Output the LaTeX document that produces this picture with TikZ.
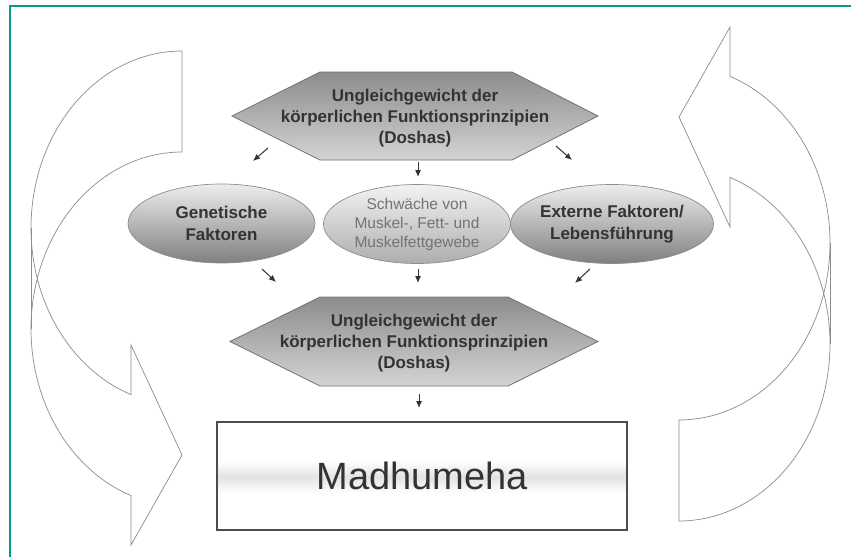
\documentclass[tikz,border=0pt]{standalone}
\usepackage{fontspec}
\setmainfont{Liberation Sans}
\usetikzlibrary{shapes.geometric,arrows.meta}
\definecolor{frameteal}{HTML}{009B8D}
\begin{document}
\begin{tikzpicture}[x=1pt,y=-1pt,
  hexbox/.style={draw=black!55, line width=0.8pt, top color=black!45, bottom color=black!17},
  hextext/.style={align=center, text=black!80, font=\fontsize{17}{21}\selectfont\bfseries},
  ovalbox/.style={ellipse, draw=black!45, line width=0.7pt, minimum width=187pt, minimum height=79pt,
    inner sep=0pt, top color=black!7, bottom color=black!50, align=center, text=black!80,
    font=\fontsize{17}{22}\selectfont\bfseries},
  midoval/.style={ovalbox, top color=black!5, bottom color=black!32, text=black!55,
    font=\fontsize{15.5}{19}\selectfont},
  smallarrow/.style={-{Latex[length=7pt,width=6pt]}, line width=1pt, draw=black!80},
  bigarrow/.style={draw=black!45, line width=0.7pt}]
\useasboundingbox (0,0) rectangle (851,557);
\fill[white] (0,0) rectangle (851,557);
% frame
\draw[frameteal, line width=2.3pt] (10,557) -- (10,6) -- (851,6);

% left curved arrow
\draw[bigarrow] plot[domain=90:250.26,samples=90,variable=\t] ({182+151*cos(\t)},{228-177*sin(\t)})
  -- (131,345) -- (182,455) -- (131,545) -- (131,495.6)
  -- plot[domain=250.26:90,samples=90,variable=\t] ({182+151*cos(\t)},{329-177*sin(\t)}) -- cycle;
\draw[bigarrow] (31,228) -- (31,329);

% right curved arrow (point reflection of the left one)
\begin{scope}[rotate around={180:(430.5,286)}]
\draw[bigarrow] plot[domain=90:250.26,samples=90,variable=\t] ({182+151*cos(\t)},{228-177*sin(\t)})
  -- (131,345) -- (182,455) -- (131,545) -- (131,495.6)
  -- plot[domain=250.26:90,samples=90,variable=\t] ({182+151*cos(\t)},{329-177*sin(\t)}) -- cycle;
\draw[bigarrow] (31,228) -- (31,329);
\end{scope}

% top hexagon
\path[hexbox] (232,116) -- (320,72) -- (512,72) -- (598,116) -- (512,160) -- (320,160) -- cycle;
\node[hextext] (hexA) at (415,118) {Ungleichgewicht der\\körperlichen Funktionsprinzipien\\(Doshas)};

% ellipses
\node[ovalbox] (gen) at (221.5,223.5) {Genetische\\Faktoren};
\node[midoval] (schw) at (417,224) {Schwäche von\\Muskel-, Fett- und\\Muskelfettgewebe};
\node[ovalbox] (ext) at (612,224) {Externe Faktoren/\\Lebensführung};

% bottom hexagon
\path[hexbox] (230,341.5) -- (320,297) -- (508,297) -- (598,341.5) -- (508,386) -- (320,386) -- cycle;
\node[hextext] (hexB) at (414,343) {Ungleichgewicht der\\körperlichen Funktionsprinzipien\\(Doshas)};

% Madhumeha box
\fill[top color=white, bottom color=black!11] (218,461) rectangle (626,477);
\fill[top color=black!11, bottom color=white] (218,477) rectangle (626,493);
\node[draw=black!70, line width=1.2pt, minimum width=410pt, minimum height=108pt, inner sep=0pt,
  text=black!80, font=\fontsize{38}{40}\selectfont] (madhu) at (422,476) {Madhumeha};

% small arrows
\coordinate (a1s) at (268,148); \coordinate (a1e) at (253,161);
\coordinate (a2s) at (418,162); \coordinate (a2e) at (418,177);
\coordinate (a3s) at (556,146); \coordinate (a3e) at (572,160);
\coordinate (a4s) at (262,269); \coordinate (a4e) at (276,282);
\coordinate (a5s) at (418,269); \coordinate (a5e) at (418,283);
\coordinate (a6s) at (590,269); \coordinate (a6e) at (575,283);
\coordinate (a7s) at (419,394); \coordinate (a7e) at (419,408);
\draw[smallarrow] (a1s) -- (a1e);
\draw[smallarrow] (a2s) -- (a2e);
\draw[smallarrow] (a3s) -- (a3e);
\draw[smallarrow] (a4s) -- (a4e);
\draw[smallarrow] (a5s) -- (a5e);
\draw[smallarrow] (a6s) -- (a6e);
\draw[smallarrow] (a7s) -- (a7e);
\end{tikzpicture}
\end{document}
